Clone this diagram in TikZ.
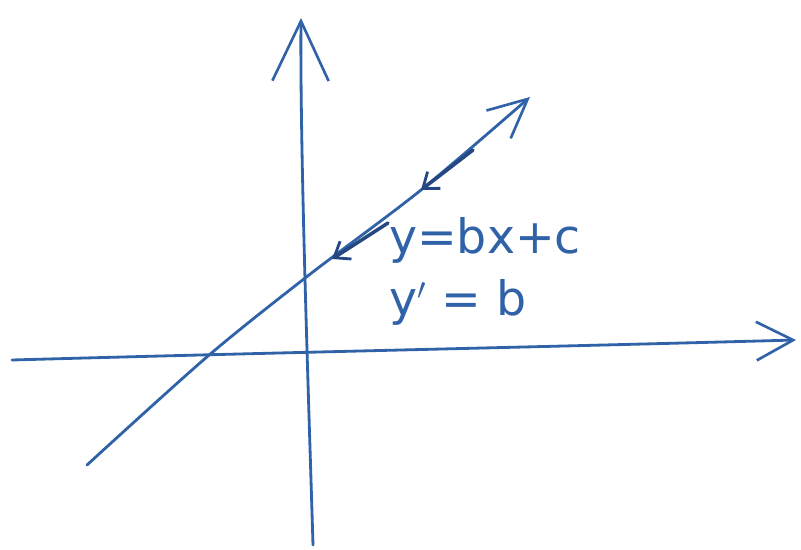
\documentclass[tikz,border=0pt]{standalone}
\usepackage{fontspec}
\setsansfont{DejaVu Sans}
\usetikzlibrary{arrows.meta,calc}
\definecolor{inkblue}{RGB}{48,98,168}
\definecolor{inkdark}{RGB}{38,72,130}

\begin{document}
\begin{tikzpicture}[x=0.02cm,y=-0.02cm,
  penline/.style={inkblue,line width=1.6pt,line cap=round},
  slopearrow/.style={inkdark,line width=2pt,line cap=round,-{Straight Barb[length=8pt,width=12pt,line width=1.6pt]}}]
  \useasboundingbox (0,0) rectangle (801,550);
  \coordinate (XL) at (12,360);
  \coordinate (XR) at (796,340);
  \coordinate (YB) at (313,545);
  \coordinate (YT) at (301,18);
  \coordinate (LA) at (87,465);
  \coordinate (LB) at (530,97);
  % 軸
  \draw[penline,-{Straight Barb[length=21pt,width=22pt,line width=1.5pt]}]
    (XL) .. controls (300,352) and (500,348) .. (XR);
  \draw[penline,-{Straight Barb[length=34pt,width=32pt,line width=1.5pt]}]
    (YB) .. controls (308,380) and (300,150) .. (YT);
  % 直線
  \draw[penline,-{Straight Barb[length=22pt,width=21pt,line width=1.5pt]}]
    plot[smooth] coordinates {(LA) (208,356) (309,275) (421,190) (LB)};
  % 傾き
  \draw[slopearrow] (473,150)--(421,190);
  \draw[slopearrow] (388,223)--(332,259);
  \node[inkblue,font=\sffamily\fontsize{27}{27}\selectfont] (eq) at (485,240) {y=bx+c};
  \node[inkblue,font=\sffamily\fontsize{27}{27}\selectfont] (deriv) at (458,302) {y$'$ = b};
\end{tikzpicture}
\end{document}
